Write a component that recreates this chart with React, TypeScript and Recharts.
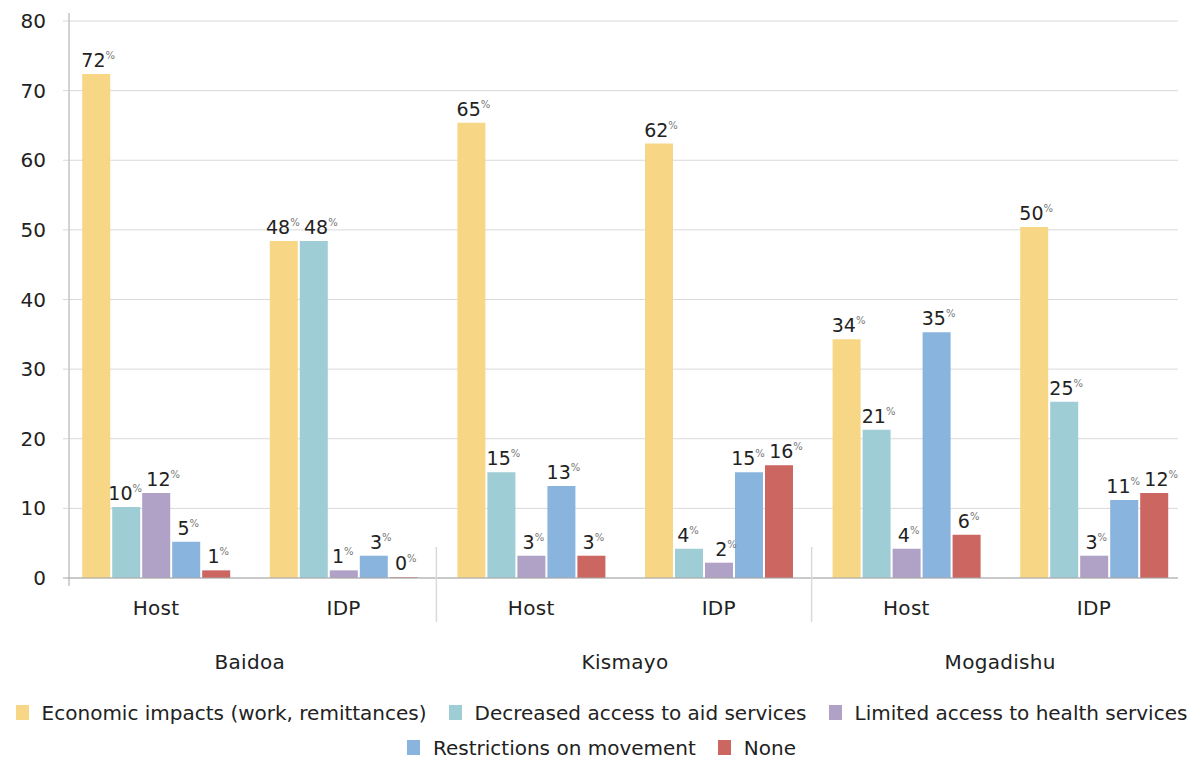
import React from 'react';
import { BarChart, Bar, XAxis, YAxis, CartesianGrid, LabelList } from 'recharts';

const categories = ['Host', 'IDP', 'Host', 'IDP', 'Host', 'IDP'];
const cities = ['Baidoa', 'Baidoa', 'Kismayo', 'Kismayo', 'Mogadishu', 'Mogadishu'];
const economic = [72.4, 48.4, 65.4, 62.4, 34.3, 50.4];
const aidAccess = [10.2, 48.4, 15.2, 4.2, 21.3, 25.3];
const healthAccess = [12.2, 1.1, 3.2, 2.2, 4.2, 3.2];
const movement = [5.2, 3.2, 13.2, 15.2, 35.3, 11.2];
const noneVals = [1.1, 0.1, 3.2, 16.2, 6.2, 12.2];
const yTicks = [0, 10, 20, 30, 40, 50, 60, 70, 80];

const seriesDefs = [
  { key: 'economic', name: 'Economic impacts (work, remittances)', color: '#F7D786' },
  { key: 'aid', name: 'Decreased access to aid services', color: '#9FCDD5' },
  { key: 'health', name: 'Limited access to health services', color: '#B0A1C6' },
  { key: 'movement', name: 'Restrictions on movement', color: '#89B4DD' },
  { key: 'none', name: 'None', color: '#CB6660' },
];

const data = categories.map((c, i) => ({
  key: `${cities[i]}-${c}`,
  cat: c,
  city: cities[i],
  economic: economic[i],
  aid: aidAccess[i],
  health: healthAccess[i],
  movement: movement[i],
  none: noneVals[i],
}));

const FONT = '"DejaVu Sans", sans-serif';
const AXIS = '#a6a6a6';
const GRID = '#d9d9d9';

// shift labels sideways when a neighbouring bar in the same group has nearly the same height
const labelShift = (seriesIdx: number, catIdx: number) => {
  const row: any = data[catIdx];
  const v = row[seriesDefs[seriesIdx].key];
  let dx = 0;
  if (seriesIdx > 0) {
    const prev = row[seriesDefs[seriesIdx - 1].key];
    if (Math.abs(prev - v) < 2.5) dx += 5;
  }
  if (seriesIdx < seriesDefs.length - 1) {
    const next = row[seriesDefs[seriesIdx + 1].key];
    if (Math.abs(next - v) < 2.5) dx -= 3;
  }
  return dx;
};

const makeLabel = (seriesIdx: number) => (props: any) => {
  const { x, y, width, value, index } = props;
  if (value === undefined || value === null) return null;
  const dx = labelShift(seriesIdx, index);
  return (
    <text x={x + width / 2 + 2 + dx} y={y - 7} textAnchor="middle" fontFamily={FONT}>
      <tspan fontSize={19} fill="#222">{Math.round(value)}</tspan>
      <tspan fontSize={10} fill="#777" dy={-8}>%</tspan>
    </text>
  );
};

const YTick = (props: any) => {
  const { x, y, payload } = props;
  const v = payload.value;
  return (
    <g>
      <line x1={x - 6} x2={x} y1={y} y2={y} stroke={v === 0 ? AXIS : GRID} />
      {v === 0 && <line x1={x} x2={x} y1={y} y2={y + 8} stroke={AXIS} />}
      {v === 80 && <line x1={x} x2={x} y1={y - 8} y2={y} stroke={AXIS} />}
      <text x={x - 23} y={y} textAnchor="end" dominantBaseline="central" fontSize={20} fill="#222" fontFamily={FONT}>
        {v}
      </text>
    </g>
  );
};

const XTick = (props: any) => {
  const { x, y, index, payload } = props;
  const half = payload && payload.offset ? payload.offset : 93.8;
  const d = data[index];
  if (!d) return null;
  return (
    <g>
      <text x={x} y={y + 37} textAnchor="middle" fontSize={20} letterSpacing={0.3} fill="#222" fontFamily={FONT}>
        {d.cat}
      </text>
      {index % 2 === 0 && (
        <text x={x + half} y={y + 91} textAnchor="middle" fontSize={20} letterSpacing={0.3} fill="#222" fontFamily={FONT}>
          {d.city}
        </text>
      )}
      {index % 2 === 1 && index < data.length - 1 && (
        <line x1={x + half - 1} x2={x + half - 1} y1={y - 31} y2={y + 44} stroke={GRID} strokeWidth={1.5} />
      )}
    </g>
  );
};

const LegendRow = ({ items }: { items: typeof seriesDefs }) => (
  <div style={{ display: 'flex', justifyContent: 'center', alignItems: 'center', height: 35 }}>
    {items.map((s, i) => (
      <div key={s.key} style={{ display: 'flex', alignItems: 'center', marginLeft: i === 0 ? 0 : 22 }}>
        <span style={{ display: 'inline-block', width: 13, height: 15, background: s.color, marginRight: 13 }} />
        <span style={{ fontSize: 20, color: '#222', whiteSpace: 'nowrap' }}>{s.name}</span>
      </div>
    ))}
  </div>
);

export default function App() {
  return (
    <div style={{ width: 1187, fontFamily: FONT, background: '#fff' }}>
      <BarChart
        width={1187}
        height={672}
        data={data}
        margin={{ top: 13, right: 17, left: 0, bottom: 0 }}
        barCategoryGap={20}
        barGap={2}
      >
        <CartesianGrid horizontal vertical={false} stroke={GRID} />
        <XAxis
          dataKey="key"
          interval={0}
          height={102}
          tickLine={false}
          tickSize={0}
          tickMargin={0}
          axisLine={{ stroke: AXIS }}
          padding={{ left: -6.8, right: -9.8 }}
          tick={<XTick />}
        />
        <YAxis
          width={61}
          domain={[0, 80]}
          ticks={yTicks}
          interval={0}
          tickLine={false}
          tickSize={0}
          tickMargin={0}
          axisLine={{ stroke: AXIS }}
          tick={<YTick />}
        />
        {seriesDefs.map((s, si) => (
          <Bar key={s.key} dataKey={s.key} name={s.name} fill={s.color} isAnimationActive={false}>
            <LabelList dataKey={s.key} content={makeLabel(si)} />
          </Bar>
        ))}
      </BarChart>
      <div style={{ paddingTop: 15, marginLeft: -8, width: 1203 }}>
        <LegendRow items={seriesDefs.slice(0, 3)} />
        <LegendRow items={seriesDefs.slice(3)} />
      </div>
    </div>
  );
}
